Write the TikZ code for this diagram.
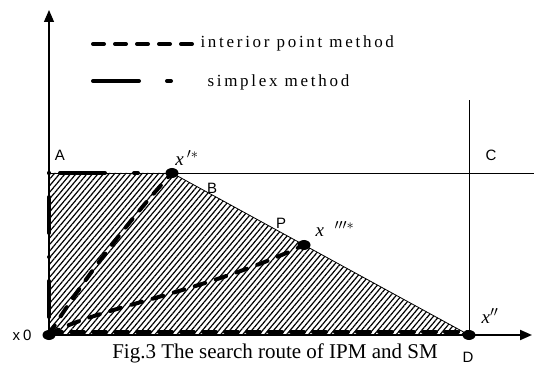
\documentclass[tikz,border=0pt]{standalone}
\usepackage{fontspec}
\setmainfont{Liberation Serif}
\newfontfamily\labFont[LetterSpace=20]{Liberation Sans}
\newfontfamily\spacedFont[LetterSpace=16]{Liberation Serif}
\usetikzlibrary{arrows.meta, patterns.meta, shapes.geometric}
\tikzstyle{axis} = [line width=1.2pt, -{Triangle[length=12pt, width=10pt]}]
\tikzstyle{thinLine} = [line width=0.8pt]
\tikzstyle{hatch} = [pattern={Lines[angle=50, distance=4.2pt, line width=1.2pt]}]
\tikzstyle{ipm} = [line width=4pt, line cap=round, dash pattern=on 11pt off 11pt]
\tikzstyle{sm} = [line width=4pt, line cap=round, dash pattern=on 46pt off 28pt on 4pt off 28pt]
\tikzstyle{dot} = [ellipse, fill=black, inner sep=0pt, minimum width=13pt, minimum height=10pt]
\tikzstyle{lab} = [font=\labFont\fontsize{15}{17}\selectfont]
\tikzstyle{mathLab} = [font=\fontsize{19}{21}\selectfont\itshape]
\tikzstyle{legendText} = [font=\spacedFont\fontsize{17}{19}\selectfont, anchor=west]

\begin{document}
\begin{tikzpicture}[x=1pt, y=1pt]

    \useasboundingbox (0,0) rectangle (534,369);

    \coordinate (orig) at (49,34);
    \coordinate (cornerA) at (49,196);
    \coordinate (yTop) at (49,359);
    \coordinate (xEnd) at (532,34);
    \coordinate (lineEnd) at (534,196);
    \coordinate (vTop) at (469,269);

    \node (ptOpt) [dot] at (172,196) {};
    \node (ptP) [dot] at (304,124) {};
    \node (ptD) [dot] at (469,34) {};
    \node (ptOrig) [dot] at (49,34) {};

    \fill[hatch] (orig) -- (cornerA) -- (ptOpt.center) -- (ptD.center) -- cycle;

    \draw[axis] (orig) -- (yTop);
    \draw[axis, line width=2pt] (orig) -- (xEnd);
    \draw[thinLine] (cornerA) -- (lineEnd);
    \draw[thinLine] (ptD.center) -- (vTop);
    \draw[thinLine] (ptOpt.center) -- (ptD.center);

    \draw[ipm] (ptOrig.center) .. controls (70,70) and (125,145) .. (ptOpt.center);
    \draw[ipm] (ptOrig.center) .. controls (90,60) and (200,75) .. (ptP.center);
    \draw[ipm, dash pattern=on 13pt off 9pt] ([yshift=3pt]ptOrig.center) -- ([yshift=3pt]ptD.center);
    \draw[sm, dash pattern=on 0pt off 24pt on 36pt off 24pt] (cornerA) -- (ptOrig.center);
    \draw[sm, dash pattern=on 0pt off 11pt on 45pt off 29pt on 4pt off 100pt] (cornerA) -- (ptOpt.center);

    \coordinate (ipmStart) at (93,325);
    \coordinate (ipmEnd) at (192,325);
    \coordinate (smStart) at (93,288);
    \coordinate (smEnd) at (176,288);
    \draw[ipm] (ipmStart) -- (ipmEnd);
    \draw[sm] (smStart) -- (smEnd);
    \node (ipmText) [legendText] at (197,326) {interior point method};
    \node (smText) [legendText] at (204,287) {simplex method};

    \node (labA) [lab] at (60,214) {A};
    \node (labB) [lab] at (212,181) {B};
    \node (labC) [lab] at (491,214) {C};
    \node (labD) [lab] at (468,12) {D};
    \node (labP) [lab] at (281,146) {P};
    \node (labOrig) [lab] at (22,34) {x0};

    \node (labOpt) [mathLab] at (187,211) {x\,$'^{*}$};
    \node (labP2) [mathLab] at (335,140) {x\;\;$'''^{*}$};
    \node (labX2) [mathLab] at (490,53) {x$''$};

    \node (caption) [anchor=base] at (275,11) {\fontsize{21}{23}\selectfont Fig.3 The search route of IPM and SM};

\end{tikzpicture}
\end{document}
